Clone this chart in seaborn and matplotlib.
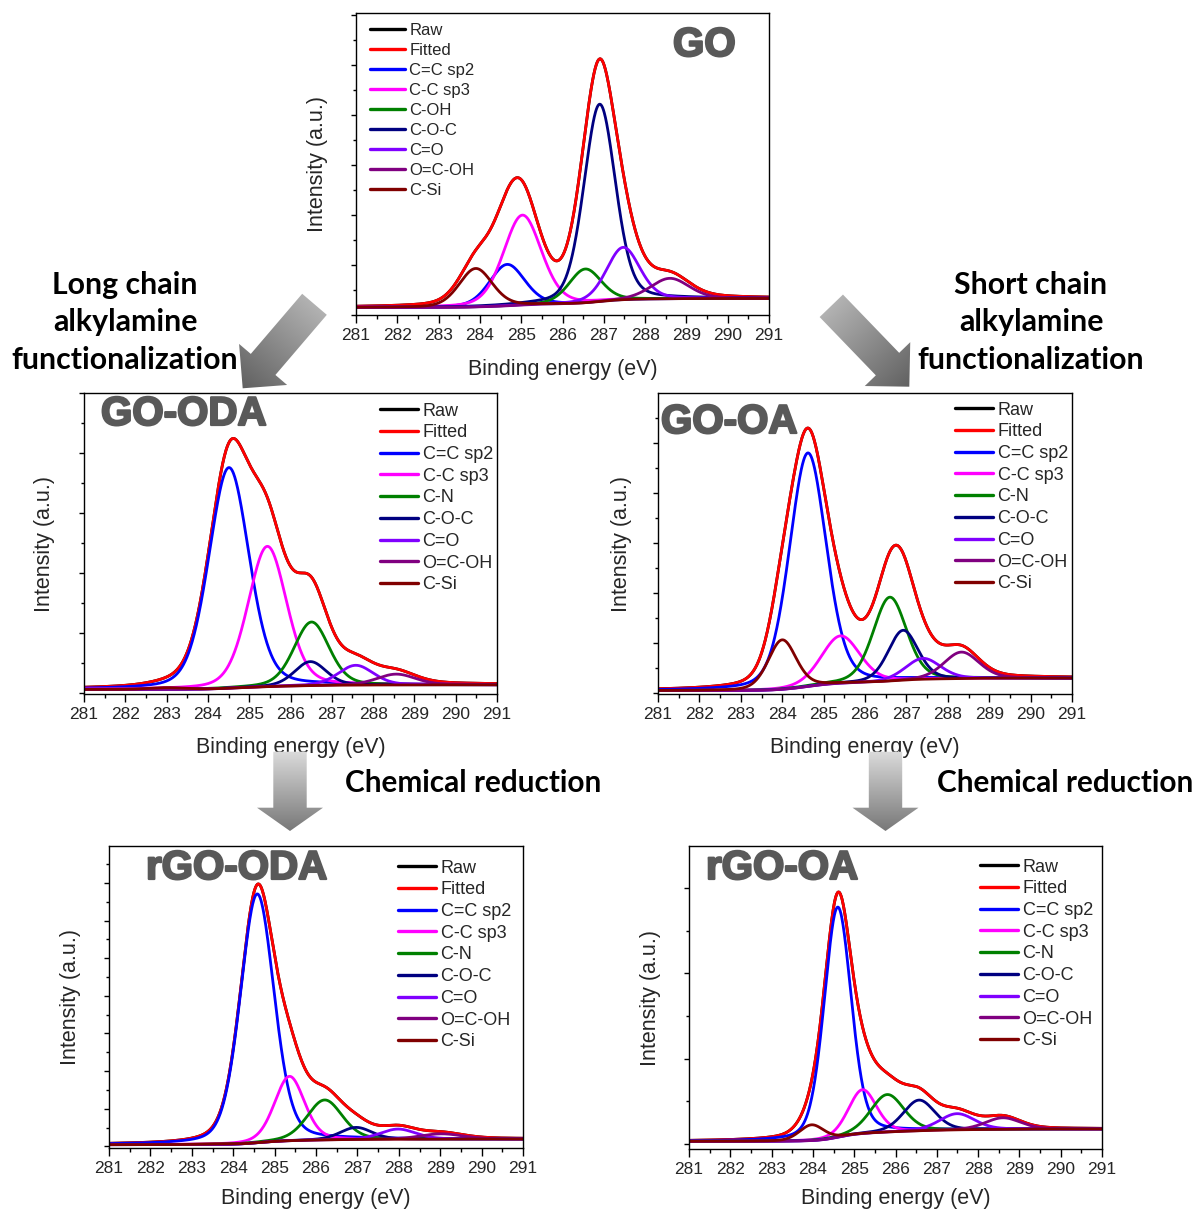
import numpy as np
import pandas as pd
import matplotlib
matplotlib.use("Agg")
import matplotlib.pyplot as plt
import seaborn as sns
from matplotlib.lines import Line2D
from matplotlib.path import Path
from matplotlib.patches import PathPatch
import matplotlib.patheffects as pe

# ---------------------------------------------------------------------------
# C1s XPS peak fits: (centre eV, height a.u., FWHM eV) for each component.
# Component order: C=C sp2, C-C sp3, C-OH / C-N, C-O-C, C=O, O=C-OH, C-Si
# ---------------------------------------------------------------------------
go_centers = [284.66, 285.03, 286.55, 286.90, 287.47, 288.60, 283.90]
go_heights = [0.83, 1.80, 0.68, 3.95, 1.05, 0.41, 0.77]
go_fwhm = [1.00, 1.08, 0.92, 0.90, 0.95, 1.10, 0.95]
go_background = [0.15, 0.33]

go_oda_centers = [284.51, 285.44, 286.51, 286.48, 287.58, 288.56, 283.00]
go_oda_heights = [3.68, 2.34, 1.06, 0.40, 0.33, 0.18, 0.03]
go_oda_fwhm = [1.15, 1.10, 1.00, 0.90, 1.00, 1.10, 1.00]
go_oda_background = [0.056, 0.133]

go_oa_centers = [284.62, 285.41, 286.60, 286.92, 287.40, 288.33, 284.00]
go_oa_heights = [4.67, 0.95, 1.68, 1.00, 0.42, 0.53, 0.99]
go_oa_fwhm = [1.05, 1.10, 0.95, 0.85, 1.00, 1.00, 0.80]
go_oa_background = [0.04, 0.29]

rgo_oda_centers = [284.58, 285.36, 286.21, 286.97, 287.98, 289.03, 283.50]
rgo_oda_heights = [6.61, 1.71, 1.06, 0.32, 0.27, 0.14, 0.02]
rgo_oda_fwhm = [0.96, 0.85, 1.00, 0.90, 1.00, 1.20, 1.00]
rgo_oda_background = [0.044, 0.195]

rgo_oa_centers = [284.60, 285.20, 285.80, 286.57, 287.49, 288.60, 283.97]
rgo_oa_heights = [5.40, 1.03, 0.88, 0.72, 0.38, 0.27, 0.37]
rgo_oa_fwhm = [0.77, 0.80, 0.95, 0.90, 1.00, 1.00, 0.70]
rgo_oa_background = [0.06, 0.35]

labels_go = ["C=C sp2", "C-C sp3", "C-OH", "C-O-C", "C=O", "O=C-OH", "C-Si"]
labels_amine = ["C=C sp2", "C-C sp3", "C-N", "C-O-C", "C=O", "O=C-OH", "C-Si"]
sample_names = ["GO", "GO-ODA", "GO-OA", "rGO-ODA", "rGO-OA"]
energy_ticks = list(range(281, 292))

raw_color = "#000000"
fit_color = "#ff0000"
component_colors = ["#0000ff", "#ff00ff", "#008000", "#000080",
                    "#8000ff", "#800080", "#800000"]

# ---------------------------------------------------------------------------
W, H = 1196, 1211
sns.set_theme(style="ticks")
plt.rcParams["font.family"] = ["Liberation Sans", "DejaVu Sans"]
plt.rcParams["axes.linewidth"] = 1.0

energy = np.linspace(281, 291, 1001)
ETA = 0.25  # Lorentzian fraction of the pseudo-Voigt line shape


def line_shape(x, c, h, w):
    u = 4.0 * (x - c) ** 2 / w ** 2
    return h * ((1 - ETA) * np.exp(-np.log(2) * u) + ETA / (1 + u))


def build_frame(centers, heights, fwhm, background, names):
    peaks = [line_shape(energy, c, h, w) for c, h, w in zip(centers, heights, fwhm)]
    total = np.sum(peaks, axis=0)
    # Shirley-type step background rising towards high binding energy
    cum = np.cumsum(total)
    bg = background[0] + (background[1] - background[0]) * cum / cum[-1]
    rows = [pd.DataFrame({"energy": energy, "intensity": total + bg, "curve": "Raw"}),
            pd.DataFrame({"energy": energy, "intensity": total + bg, "curve": "Fitted"})]
    for name, p in zip(names, peaks):
        rows.append(pd.DataFrame({"energy": energy, "intensity": p + bg, "curve": name}))
    return pd.concat(rows, ignore_index=True)


fig = plt.figure(figsize=(W / 100, H / 100), dpi=100)


def px_axes(left, top, right, bottom):
    return fig.add_axes([left / W, 1 - bottom / H, (right - left) / W, (bottom - top) / H])


panels = [
    dict(box=(356, 13, 769, 315), data=(go_centers, go_heights, go_fwhm, go_background),
         names=labels_go, ylim=(0.0, 6.04), minor=0.5, major=1,
         title=(673, 45), leg=(370, 22.7), fs_leg=12, spacing=0.3, ylab_pad=13, xlab_pad=11.5),
    dict(box=(84, 393, 497, 694), data=(go_oda_centers, go_oda_heights, go_oda_fwhm, go_oda_background),
         names=labels_amine, ylim=(-0.02, 5.0), minor=0.5, major=1,
         title=(101, 414), leg=(380, 402.7), fs_leg=13, spacing=0.26, ylab_pad=14, xlab_pad=11.0),
    dict(box=(658, 393, 1072, 694), data=(go_oa_centers, go_oa_heights, go_oa_fwhm, go_oa_background),
         names=labels_amine, ylim=(-0.027, 5.99), minor=0.5, major=1,
         title=(661, 422), leg=(955, 401.7), fs_leg=13, spacing=0.26, ylab_pad=11.5, xlab_pad=11.0),
    dict(box=(109, 846, 523, 1148), data=(rgo_oda_centers, rgo_oda_heights, rgo_oda_fwhm, rgo_oda_background),
         names=labels_amine, ylim=(-0.044, 7.98), minor=0.5, major=1,
         title=(146, 868), leg=(398, 859.7), fs_leg=13, spacing=0.26, ylab_pad=13.4, xlab_pad=8.5),
    dict(box=(689, 846, 1102, 1149), data=(rgo_oa_centers, rgo_oa_heights, rgo_oa_fwhm, rgo_oa_background),
         names=labels_amine, ylim=(-0.12, 6.99), minor=1, major=2,
         title=(706, 868), leg=(980, 858.7), fs_leg=13, spacing=0.26, ylab_pad=13.4, xlab_pad=8.0),
]

for name, p in zip(sample_names, panels):
    ax = px_axes(*p["box"])
    df = build_frame(*p["data"], p["names"])
    order = ["Raw", "Fitted"] + p["names"]
    palette = dict(zip(order, [raw_color, fit_color] + component_colors))
    sns.lineplot(data=df, x="energy", y="intensity", hue="curve", hue_order=order,
                 palette=palette, estimator=None, sort=False, legend=False,
                 linewidth=2.0, ax=ax)
    ax.set_xlim(281, 291)
    ax.set_ylim(*p["ylim"])
    ax.set_xticks(energy_ticks)
    ax.set_xticks(np.arange(281.5, 291, 1.0), minor=True)
    ax.set_yticks(np.arange(0, p["ylim"][1] + 1e-6, p["major"]))
    ax.set_yticks(np.arange(0, p["ylim"][1] + 1e-6, p["minor"]), minor=True)
    ax.set_yticklabels([])
    ax.tick_params(axis="x", which="major", length=5.5, width=1, labelsize=12.5, pad=4, color="black")
    ax.tick_params(axis="x", which="minor", length=3, width=1, color="black")
    ax.tick_params(axis="y", which="major", length=3.5, width=1, color="black")
    ax.tick_params(axis="y", which="minor", length=2, width=1, color="black")
    for s in ax.spines.values():
        s.set_visible(True)
        s.set_color("black")
        s.set_linewidth(1.0)
    ax.set_xlabel("Binding energy (eV)", fontsize=15.5, labelpad=p["xlab_pad"])
    ax.set_ylabel("Intensity (a.u.)", fontsize=15.5, labelpad=p["ylab_pad"])

    handles = [Line2D([], [], color=palette[k], lw=2.4) for k in order]
    fig.legend(handles, order, loc="upper left",
               bbox_to_anchor=(p["leg"][0] / W, 1 - p["leg"][1] / H),
               frameon=False, fontsize=p["fs_leg"], handlelength=2.1,
               handletextpad=0.26, labelspacing=p["spacing"], borderpad=0,
               borderaxespad=0)

    tx, ty = p["title"]
    fig.text(tx / W, 1 - ty / H, name, fontsize=29, fontweight="bold",
             color="#595959", ha="left", va="center",
             path_effects=[pe.withStroke(linewidth=1.6, foreground="#595959")])

# ---------------------------------------------------------------------------
# Process annotations and gradient block arrows
# ---------------------------------------------------------------------------
ann_font = ["Lato", "DejaVu Sans"]
for cx, lines in [(125, ["Long chain", "alkylamine", "functionalization"]),
                  (1031, ["Short chain", "alkylamine", "functionalization"])]:
    for line, y in zip(lines, [285, 322, 360]):
        fig.text(cx / W, 1 - y / H, line, fontsize=21.8, fontweight="bold",
                 family=ann_font, ha="center", va="center", color="black")
for x0 in [345, 937]:
    fig.text(x0 / W, 1 - 783 / H, "Chemical reduction", fontsize=21.4, fontweight="bold",
             family=ann_font, ha="left", va="center", color="black")

ov = fig.add_axes([0, 0, 1, 1], zorder=10)
ov.set_xlim(0, W)
ov.set_ylim(H, 0)
ov.axis("off")
ov.patch.set_alpha(0)


def block_arrow(tail, tip, shaft_hw, head_hw, head_len, c0, c1):
    tail = np.array(tail, float)
    tip = np.array(tip, float)
    d = (tip - tail) / np.linalg.norm(tip - tail)
    n = np.array([-d[1], d[0]])
    base = tip - d * head_len
    pts = [tail + n * shaft_hw, base + n * shaft_hw, base + n * head_hw, tip,
           base - n * head_hw, base - n * shaft_hw, tail - n * shaft_hw, tail + n * shaft_hw]
    codes = [Path.MOVETO] + [Path.LINETO] * 6 + [Path.CLOSEPOLY]
    patch = PathPatch(Path(pts, codes), facecolor="none", edgecolor="none")
    ov.add_patch(patch)
    pts = np.array(pts)
    x0, y0 = pts.min(axis=0) - 1
    x1, y1 = pts.max(axis=0) + 1
    gx, gy = np.meshgrid(np.linspace(x0, x1, 200), np.linspace(y0, y1, 200))
    proj = ((gx - tail[0]) * d[0] + (gy - tail[1]) * d[1]) / np.linalg.norm(tip - tail)
    t = np.clip(proj, 0, 1)[..., None]
    rgb = (1 - t) * np.array(c0) + t * np.array(c1)
    im = ov.imshow(rgb, extent=(x0, x1, y1, y0), origin="upper", interpolation="bilinear",
                   zorder=11)
    im.set_clip_path(patch)


light_d, dark_d = (0.70, 0.70, 0.70), (0.38, 0.38, 0.38)
block_arrow((314.5, 304.3), (242.7, 388.3), 16.2, 31.6, 31.4, light_d, dark_d)
block_arrow((831.3, 305.8), (909.3, 386.7), 16.2, 31.6, 31.4, light_d, dark_d)
light_v, dark_v = (0.86, 0.86, 0.86), (0.47, 0.47, 0.47)
block_arrow((290.0, 751.7), (290.0, 831.0), 16.7, 33.0, 23.3, light_v, dark_v)
block_arrow((885.5, 751.7), (885.5, 831.0), 16.7, 33.0, 23.3, light_v, dark_v)

fig.savefig("out.png", dpi=100)
